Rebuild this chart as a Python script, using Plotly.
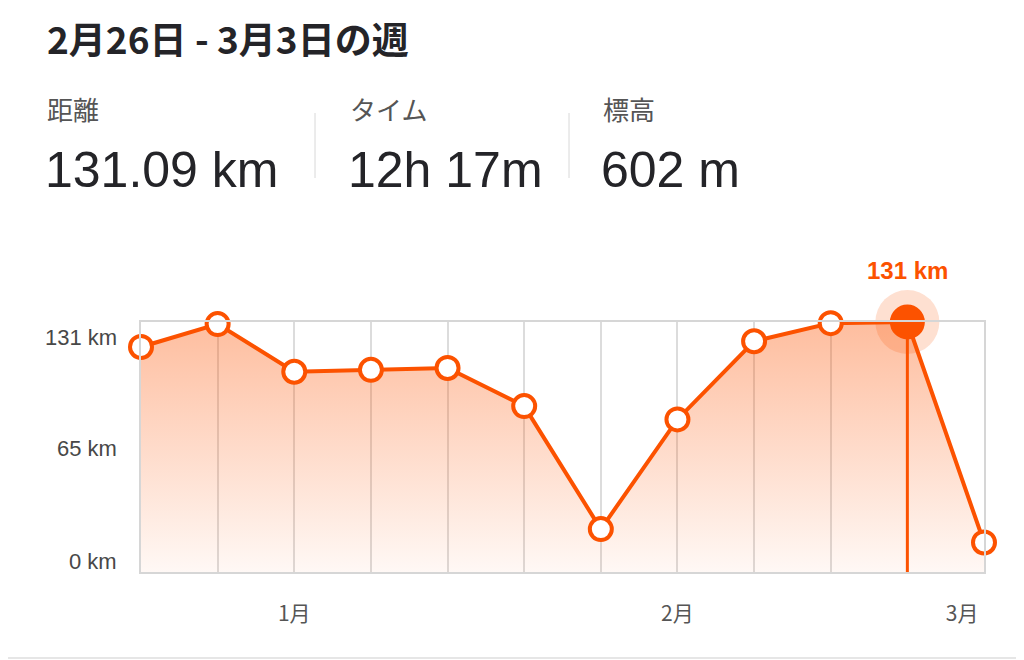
import plotly.graph_objects as go

# weekly distance (km), week starting Monday
weeks = ["2023-12-18", "2023-12-25", "2024-01-01", "2024-01-08", "2024-01-15", "2024-01-22",
         "2024-01-29", "2024-02-05", "2024-02-12", "2024-02-19", "2024-02-26", "2024-03-04"]
distance_km = [118, 130, 105, 106, 107, 87, 22.5, 80, 121, 130.5, 131.09, 15.5]
selected = 10

ytick_vals = [0, 65, 131]
ytick_text = ["0 km", "65 km", "131 km"]
xtick_vals = ["2024-01-01", "2024-02-05", "2024-03-02"]
xtick_text = ["1月", "2月", "3月"]

title_text = "2月26日 - 3月3日の週"
stat_labels = ["距離", "タイム", "標高"]
stat_values = ["131.09 km", "12h 17m", "602 m"]

ORANGE = "#FC5200"
JP = "Noto Sans CJK JP"
NUM = "Liberation Sans, Noto Sans CJK JP"

# the page has an 8px body margin, so lay out in a 1016x652 box
OFF = 8
W, H = 1024 - OFF, 660 - OFF
L, R, T, B = 141 - OFF, 40, 322 - OFF, 660 - 572
PW, PH = W - L - R, H - T - B


def px(x):
    return (x - OFF - L) / PW


def py(y):
    return 1 + (T - (y - OFF)) / PH


fig = go.Figure()

# gradient area + line
fig.add_trace(go.Scatter(
    x=weeks, y=distance_km, mode="lines", fill="tozeroy",
    line=dict(color=ORANGE, width=4),
    fillgradient=dict(type="vertical",
                      colorscale=[[0, "rgba(252,82,0,0.04)"], [1, "rgba(252,82,0,0.38)"]]),
    hoverinfo="skip", showlegend=False, cliponaxis=False))

# selected week: vertical line down to axis
fig.add_trace(go.Scatter(
    x=[weeks[selected], weeks[selected]], y=[0, distance_km[selected]], mode="lines",
    line=dict(color=ORANGE, width=3), showlegend=False, hoverinfo="skip"))

# halo behind the selected point
fig.add_trace(go.Scatter(
    x=[weeks[selected]], y=[distance_km[selected]], mode="markers",
    marker=dict(size=64, color="rgba(252,82,0,0.18)", opacity=1, line=dict(width=0)),
    showlegend=False, cliponaxis=False, hoverinfo="skip"))

# markers: white rings, selected one filled
sizes = [31 if i == selected else 22 for i in range(len(weeks))]
fills = [ORANGE if i == selected else "white" for i in range(len(weeks))]
fig.add_trace(go.Scatter(
    x=weeks, y=distance_km, mode="markers",
    marker=dict(size=sizes, color=fills, opacity=1, line=dict(color=ORANGE, width=4)),
    showlegend=False, cliponaxis=False))

fig.add_annotation(x=weeks[selected], y=distance_km[selected], xref="x", yref="y",
                   text=f"<b>{round(distance_km[selected])} km</b>", showarrow=False,
                   yanchor="bottom", yshift=36,
                   font=dict(family=NUM, size=24, color=ORANGE))

fig.update_xaxes(
    range=[weeks[0], weeks[-1]], showgrid=False, zeroline=False,
    showline=True, mirror=True, linecolor="#d6d6d6", linewidth=2,
    tickmode="array", tickvals=xtick_vals, ticktext=xtick_text, ticks="",
    ticklabelstandoff=22, tickfont=dict(family=JP, size=21, color="#555"),
    minor=dict(tickmode="array", tickvals=weeks, showgrid=True,
               gridcolor="#dcdcdc", gridwidth=2, ticks=""))
fig.update_yaxes(
    range=[0, max(distance_km)], showgrid=False, zeroline=False, showticklabels=False,
    showline=True, mirror=True, linecolor="#d6d6d6", linewidth=2)

# y labels sit inside the box at the ends
shifts = [11, 0, -15]
for v, t, s in zip(ytick_vals, ytick_text, shifts):
    fig.add_annotation(x=0, xref="paper", y=v, yref="y", text=t, showarrow=False,
                       xanchor="right", xshift=-22, yshift=s,
                       font=dict(family=NUM, size=22, color="#484848"))

# header
fig.add_annotation(x=px(45), y=py(38), xref="paper", yref="paper", text=f"<b>{title_text}</b>",
                   showarrow=False, xanchor="left", yanchor="middle",
                   font=dict(family=JP, size=37, color="#242428"))

stat_x = [45, 348, 601]
for sx, lab, val in zip(stat_x, stat_labels, stat_values):
    fig.add_annotation(x=px(sx), y=py(108), xref="paper", yref="paper", text=lab,
                       showarrow=False, xanchor="left", yanchor="middle",
                       font=dict(family=JP, size=26, color="#555"))
    fig.add_annotation(x=px(sx - 2), y=py(170), xref="paper", yref="paper", text=val,
                       showarrow=False, xanchor="left", yanchor="middle",
                       font=dict(family=NUM, size=50, color="#242428"))

for sep in [315, 569]:
    fig.add_shape(type="line", xref="paper", yref="paper", x0=px(sep), x1=px(sep),
                  y0=py(113), y1=py(178), line=dict(color="#d8d8d8", width=1))

# bottom divider
fig.add_shape(type="line", xref="paper", yref="paper", x0=px(0), x1=px(1024),
              y0=py(658), y1=py(658), line=dict(color="#e6e6e6", width=2))

fig.update_layout(
    width=W, height=H,
    margin=dict(l=L, r=R, t=T, b=B),
    paper_bgcolor="white", plot_bgcolor="white",
    hovermode=False)

fig.write_html("out.html")
